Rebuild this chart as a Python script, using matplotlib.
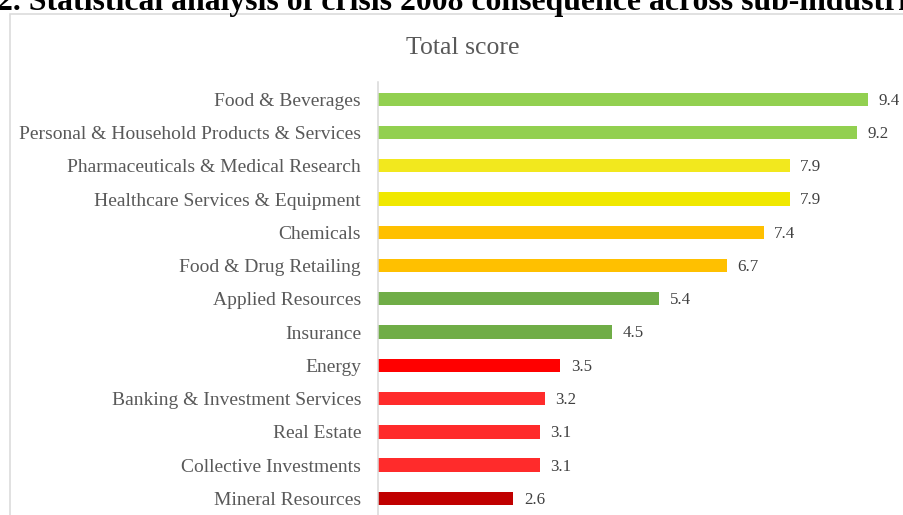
import matplotlib
matplotlib.use("Agg")
import matplotlib.pyplot as plt
from matplotlib.patches import Rectangle

# scores by sub-industry
industries = [
    "Food & Beverages",
    "Personal & Household Products & Services",
    "Pharmaceuticals & Medical Research",
    "Healthcare Services & Equipment",
    "Chemicals",
    "Food & Drug Retailing",
    "Applied Resources",
    "Insurance",
    "Energy",
    "Banking & Investment Services",
    "Real Estate",
    "Collective Investments",
    "Mineral Resources",
]
scores = [9.4, 9.2, 7.9, 7.9, 7.4, 6.7, 5.4, 4.5, 3.5, 3.2, 3.1, 3.1, 2.6]
colors = [
    "#92d050", "#92d050",
    "#f2e81e", "#f0e800",
    "#ffc000", "#ffc000",
    "#70ad47", "#70ad47",
    "#ff0000",
    "#ff2b2b", "#ff2b2b", "#ff2b2b",
    "#c00000",
]

plt.rcParams["font.family"] = ["Liberation Serif", "DejaVu Serif"]

W, H = 904, 515
fig = plt.figure(figsize=(W / 100, H / 100), dpi=100)

# heading line above the chart box (runs off the page)
fig.text(-3 / W, 1 - 10 / H,
         "2. Statistical analysis of crisis 2008 consequence across sub-industries",
         fontsize=22.9, fontweight="bold", color="black", va="baseline", ha="left")

# chart frame
fig.patches.append(Rectangle((9.5 / W, -0.1), 1.2, 1.1 - 13.5 / H,
                             transform=fig.transFigure, fill=False,
                             edgecolor="#d9d9d9", lw=1.1))

fig.text(463 / W, 1 - 53.5 / H, "Total score", fontsize=18.5, color="#595959",
         ha="center", va="baseline")

ax = fig.add_axes([378 / W, 0, (W - 378) / W, (H - 82) / H])
ax.patch.set_alpha(0)
pos = list(range(len(industries)))
ax.barh(pos, scores, height=0.40, color=colors)
ax.set_xlim(0, (W - 378) / 52.1)
ax.set_ylim(12.5, -0.52)

for p, s in zip(pos, scores):
    ax.annotate(f"{s}", (s, p), xytext=(7.5, -1), textcoords="offset points",
                va="center", ha="left", fontsize=12.2, color="#404040")

ax.set_yticks(pos)
ax.set_yticklabels(industries, fontsize=14, color="#595959")
ax.tick_params(axis="y", length=0, pad=12.2)
ax.set_xticks([])
for side in ["top", "right", "bottom"]:
    ax.spines[side].set_visible(False)
ax.spines["left"].set_color("#d9d9d9")
ax.spines["left"].set_linewidth(1.1)

fig.savefig("out.png", dpi=100)
